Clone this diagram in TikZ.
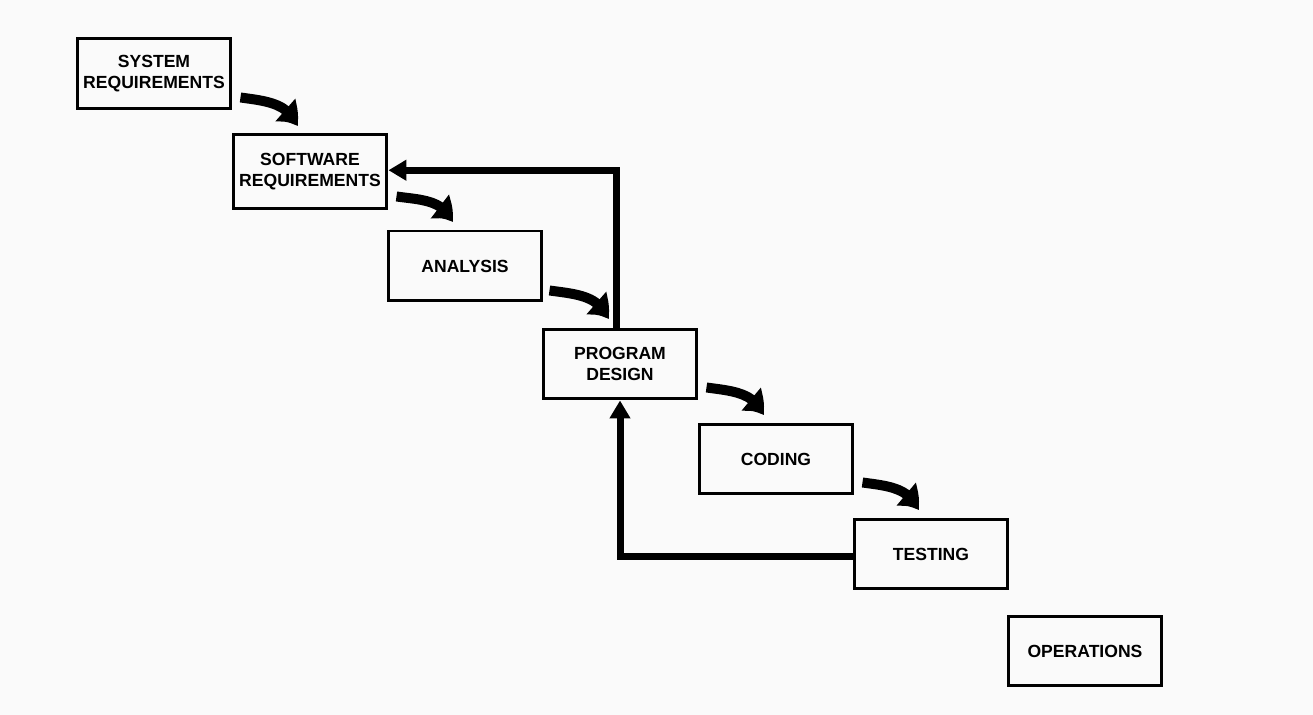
\documentclass[tikz,border=0pt]{standalone}
\usepackage{fontspec}
\setmainfont{Liberation Sans}
\usepackage{xcolor}
\usepackage{tikz}
\usetikzlibrary{arrows.meta}
\usetikzlibrary{bending}
\usetikzlibrary{backgrounds}
\definecolor{paper}{RGB}{250,250,250}
\tikzset{phase/.style ={draw, line width=0.06cm, minimum width=3.08cm, minimum height=1.4cm, align=center, inner sep=1pt, font=\fontsize{10}{12}\selectfont\bfseries}}
\tikzset{flow/.style ={line width=0.2cm, -{Triangle[bend,length=0.42cm,width=0.56cm]}}}
\tikzset{back/.style ={line width=0.14cm, -{Triangle[length=0.36cm,width=0.4cm]}}}

\begin{document}
\begin{tikzpicture}[x=0.02cm,y=-0.02cm]
{
\fill[paper] (0,0) rectangle (1313,715);
\useasboundingbox (0,0) rectangle (1313,715);
\node[phase] (sysreq) at (154,74) {SYSTEM\\REQUIREMENTS};
\node[phase, minimum height=1.48cm] (swreq) at (310,172) {SOFTWARE\\REQUIREMENTS};
\node[phase] (analysis) at (465,266) {ANALYSIS};
\node[phase] (design) at (620,364) {PROGRAM\\DESIGN};
\node[phase] (coding) at (776,459) {CODING};
\node[phase] (testing) at (931,554) {TESTING};
\node[phase] (operations) at (1085,651) {OPERATIONS};
% steps down the cascade
\draw[flow] ([shift={(8,-13)}]sysreq.south east) to[out=-8,in=108] ([shift={(-13,-7)}]swreq.north);
\draw[flow] ([shift={(8,-14)}]swreq.south east) to[out=-8,in=108] ([shift={(-13,-7)}]analysis.north);
\draw[flow] ([shift={(6,-12)}]analysis.south east) to[out=-8,in=108] ([shift={(-12,-8)}]design.north);
\draw[flow] ([shift={(8,-13)}]design.south east) to[out=-8,in=108] ([shift={(-13,-7)}]coding.north);
\draw[flow] ([shift={(8,-13)}]coding.south east) to[out=-8,in=108] ([shift={(-13,-7)}]testing.north);
% iterations back
\draw[back] ([xshift=-2]design.north) |- ([yshift=1]swreq.east);
\draw[back] ([yshift=-0.06cm]testing.west) -| (design.south);
}
\end{tikzpicture}
\end{document}
